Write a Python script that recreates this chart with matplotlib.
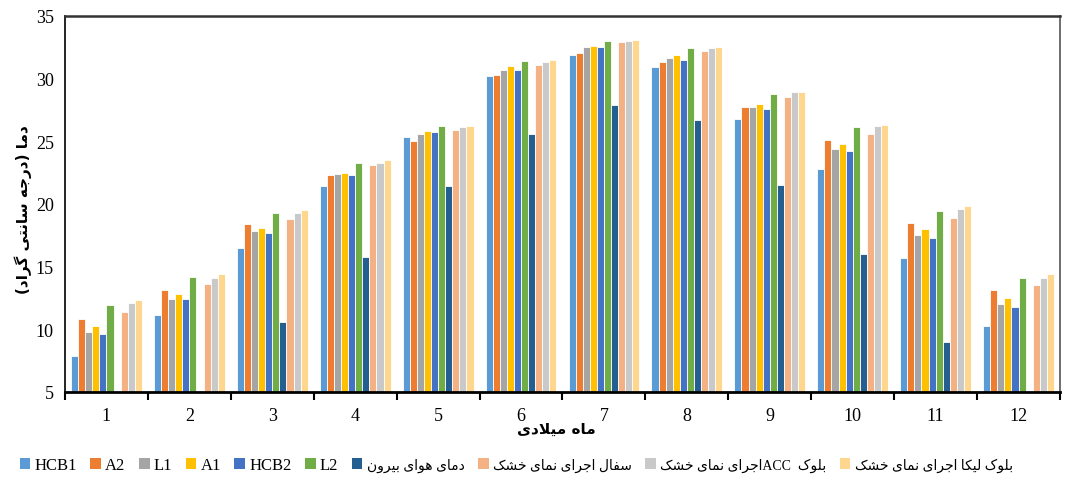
import re
import numpy as np
import matplotlib
matplotlib.use('Agg')
import matplotlib.pyplot as plt
from matplotlib.patches import Patch

# شکل‌های حروف فارسی: (تنها، پایانی، آغازی، میانی)
FORMS = {
    'ا': ('\uFE8D', '\uFE8E'),
    'ب': ('\uFE8F', '\uFE90', '\uFE91', '\uFE92'),
    'ت': ('\uFE95', '\uFE96', '\uFE97', '\uFE98'),
    'ج': ('\uFE9D', '\uFE9E', '\uFE9F', '\uFEA0'),
    'خ': ('\uFEA5', '\uFEA6', '\uFEA7', '\uFEA8'),
    'د': ('\uFEA9', '\uFEAA'),
    'ر': ('\uFEAD', '\uFEAE'),
    'س': ('\uFEB1', '\uFEB2', '\uFEB3', '\uFEB4'),
    'ش': ('\uFEB5', '\uFEB6', '\uFEB7', '\uFEB8'),
    'ف': ('\uFED1', '\uFED2', '\uFED3', '\uFED4'),
    'ک': ('\uFB8E', '\uFB8F', '\uFB90', '\uFB91'),
    'گ': ('\uFB92', '\uFB93', '\uFB94', '\uFB95'),
    'ل': ('\uFEDD', '\uFEDE', '\uFEDF', '\uFEE0'),
    'م': ('\uFEE1', '\uFEE2', '\uFEE3', '\uFEE4'),
    'ن': ('\uFEE5', '\uFEE6', '\uFEE7', '\uFEE8'),
    'ه': ('\uFEE9', '\uFEEA', '\uFEEB', '\uFEEC'),
    'و': ('\uFEED', '\uFEEE'),
    'ی': ('\uFBFC', '\uFBFD', '\uFBFE', '\uFBFF'),
}
LAM_ALEF = ('\uFEFB', '\uFEFC')


def shape_word(s):
    out = []
    i = 0
    prev_joins = False
    while i < len(s):
        c = s[i]
        if c not in FORMS:
            out.append(c)
            prev_joins = False
            i += 1
            continue
        if c == 'ل' and i + 1 < len(s) and s[i + 1] == 'ا':
            out.append(LAM_ALEF[1 if prev_joins else 0])
            prev_joins = False
            i += 2
            continue
        f = FORMS[c]
        nxt = s[i + 1] if i + 1 < len(s) else ''
        next_joins = len(f) == 4 and nxt in FORMS
        if prev_joins and next_joins:
            out.append(f[3])
        elif prev_joins:
            out.append(f[1])
        elif next_joins:
            out.append(f[2])
        else:
            out.append(f[0])
        prev_joins = next_joins
        i += 1
    return ''.join(out)


def fa(text):
    # شکل‌دهی و چیدمان راست به چپ برای رسم در matplotlib
    shaped = shape_word(text)
    runs = re.findall(r'[A-Za-z0-9]+|[^A-Za-z0-9]+', shaped)
    mirror = str.maketrans('()', ')(')
    vis = []
    for r in reversed(runs):
        if re.match(r'[A-Za-z0-9]', r):
            vis.append(r)
        else:
            vis.append(r[::-1].translate(mirror))
    return ''.join(vis)


months = list(range(1, 13))
HCB1 = [7.9, 11.1, 16.5, 21.4, 25.3, 30.2, 31.9, 30.9, 26.8, 22.8, 15.7, 10.3]
A2 = [10.8, 13.1, 18.4, 22.3, 25.0, 30.3, 32.0, 31.3, 27.7, 25.1, 18.5, 13.1]
L1 = [9.8, 12.4, 17.8, 22.4, 25.6, 30.7, 32.5, 31.6, 27.7, 24.4, 17.5, 12.0]
A1 = [10.3, 12.8, 18.1, 22.5, 25.8, 31.0, 32.6, 31.9, 28.0, 24.8, 18.0, 12.5]
HCB2 = [9.6, 12.4, 17.7, 22.3, 25.7, 30.7, 32.5, 31.5, 27.6, 24.2, 17.3, 11.8]
L2 = [11.9, 14.2, 19.3, 23.3, 26.2, 31.4, 33.0, 32.4, 28.8, 26.1, 19.4, 14.1]
outdoor = [4.5, 5.1, 10.6, 15.8, 21.4, 25.6, 27.9, 26.7, 21.5, 16.0, 9.0, 4.8]
clay = [11.4, 13.6, 18.8, 23.1, 25.9, 31.1, 32.9, 32.2, 28.5, 25.6, 18.9, 13.5]
acc = [12.1, 14.1, 19.3, 23.3, 26.1, 31.3, 33.0, 32.4, 28.9, 26.2, 19.6, 14.1]
leca = [12.3, 14.4, 19.5, 23.5, 26.2, 31.5, 33.1, 32.5, 28.9, 26.3, 19.8, 14.4]

series = [HCB1, A2, L1, A1, HCB2, L2, outdoor, clay, acc, leca]
labels = ['HCB1', 'A2', 'L1', 'A1', 'HCB2', 'L2',
          fa('دمای هوای بیرون'),
          fa('سفال اجرای نمای خشک'),
          fa('بلوک  ACCاجرای نمای خشک'),
          fa('بلوک لیکا اجرای نمای خشک')]
colors = ['#5B9BD5', '#ED7D31', '#A5A5A5', '#FFC000', '#4472C4', '#70AD47',
          '#255E91', '#F4B183', '#C9C9C9', '#FFD68E']

serif = ['Liberation Serif', 'DejaVu Sans']

fig = plt.figure(figsize=(10.7, 4.81), dpi=100)
ax = fig.add_axes([0.0607, 0.183, 0.930, 0.782])

x = np.arange(1, 13)
n = len(series)
group_w = 0.855
w = group_w / n
for i, (vals, c) in enumerate(zip(series, colors)):
    pos = x - group_w / 2 + w * (i + 0.5)
    ax.bar(pos, vals, width=w, color=c, edgecolor='white', linewidth=0.6)

ax.set_xlim(0.5, 12.5)
ax.set_ylim(5, 35)
ax.set_yticks(range(5, 36, 5))
ax.tick_params(axis='y', length=0, pad=8, labelsize=13)
for t in ax.get_yticklabels():
    t.set_fontfamily(serif)

ax.set_xticks(np.arange(0.5, 13, 1))
ax.set_xticklabels([])
ax.set_xticks(x, minor=True)
ax.set_xticklabels([str(m) for m in months], minor=True, fontsize=13, family=serif)
ax.tick_params(axis='x', which='major', length=6, width=1.5, direction='out')
ax.tick_params(axis='x', which='minor', length=0, pad=11)

for side in ['left', 'bottom']:
    ax.spines[side].set_color('black')
ax.spines['left'].set_linewidth(1.2)
ax.spines['bottom'].set_linewidth(2)
ax.spines['top'].set_color('#333333')
ax.spines['top'].set_linewidth(1.8)
ax.spines['right'].set_color('#555555')
ax.spines['right'].set_linewidth(1.2)

fig.text(0.52, 1 - 429 / 481, fa('ماه میلادی'), ha='center', va='center',
         fontsize=11, fontweight='bold', family='DejaVu Sans')
fig.text(0.022, 1 - 210 / 481, fa('دما (درجه سانتی گراد)'), ha='center', va='center',
         rotation=90, fontsize=11, fontweight='bold', family='DejaVu Sans')

handles = [Patch(facecolor=c, edgecolor='none') for c in colors]
leg = fig.legend(handles, labels, loc='center left', bbox_to_anchor=(0.012, 0.031),
                 ncol=n, frameon=False, handlelength=0.65, handleheight=0.65,
                 handletextpad=0.25, columnspacing=0.8, borderaxespad=0,
                 prop={'family': serif, 'size': 12})
# متن‌های فارسی راهنما کمی کوچک‌تر
for t in leg.get_texts()[6:]:
    t.set_fontsize(10)

fig.savefig('out.png', dpi=100)
